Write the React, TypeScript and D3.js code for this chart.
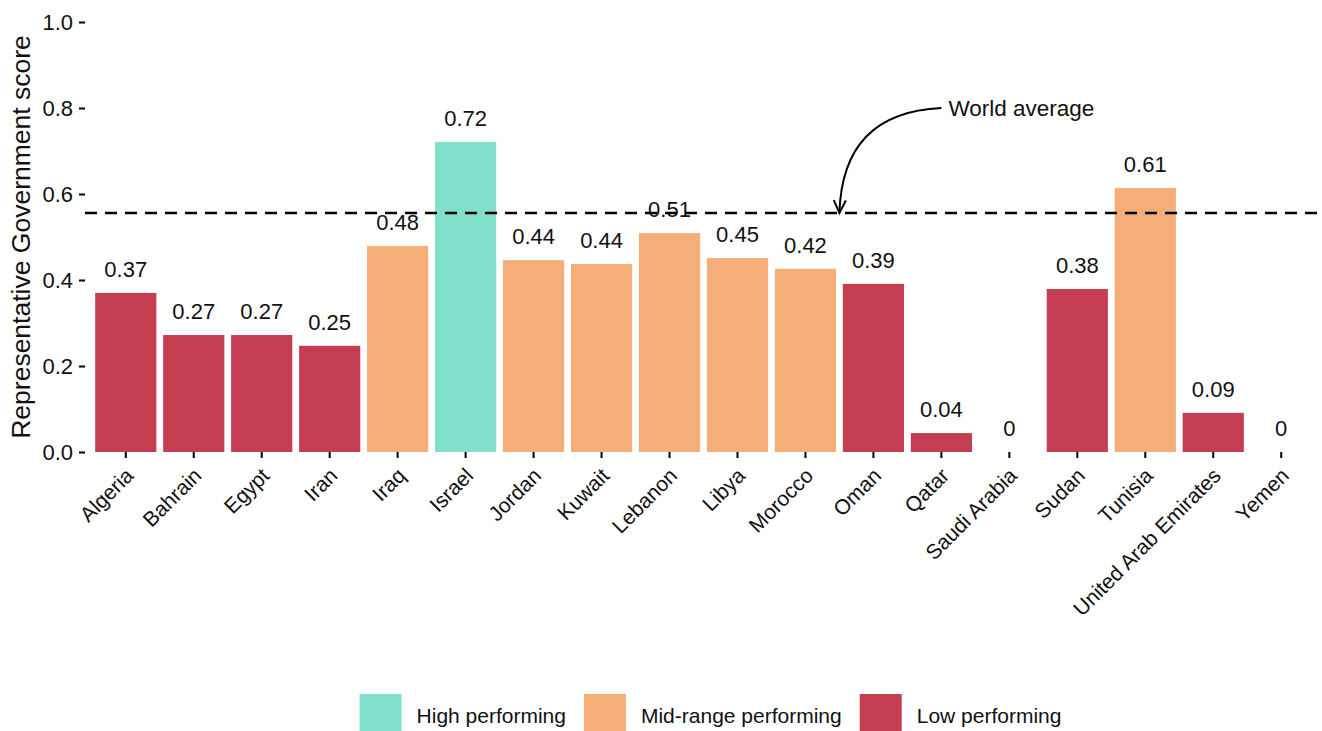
import { useEffect, useRef } from "react";
import * as d3 from "d3";

const countries = [
  "Algeria", "Bahrain", "Egypt", "Iran", "Iraq", "Israel", "Jordan", "Kuwait",
  "Lebanon", "Libya", "Morocco", "Oman", "Qatar", "Saudi Arabia", "Sudan",
  "Tunisia", "United Arab Emirates", "Yemen",
];
const scores = [
  0.37, 0.272, 0.272, 0.247, 0.479, 0.721, 0.446, 0.437, 0.509, 0.451, 0.426,
  0.391, 0.044, 0, 0.379, 0.614, 0.091, 0,
];
const scoreLabels = [
  "0.37", "0.27", "0.27", "0.25", "0.48", "0.72", "0.44", "0.44", "0.51", "0.45",
  "0.42", "0.39", "0.04", "0", "0.38", "0.61", "0.09", "0",
];
const groups = [
  "Low", "Low", "Low", "Low", "Mid", "High", "Mid", "Mid", "Mid", "Mid", "Mid",
  "Low", "Low", "Low", "Low", "Mid", "Low", "Low",
];
const groupKeys = ["High", "Mid", "Low"];
const groupLabels = ["High performing", "Mid-range performing", "Low performing"];
const groupColors = ["#80E0CC", "#F5AE78", "#C43D51"];
const yTicks = [0, 0.2, 0.4, 0.6, 0.8, 1.0];
const worldAverage = 0.556;

const FONT = "'Liberation Sans', Arial, Helvetica, sans-serif";

export default function App() {
  const svgRef = useRef<SVGSVGElement>(null);

  useEffect(() => {
    if (!svgRef.current) return;
    const width = 1322;
    const height = 731;
    const svg = d3.select(svgRef.current);
    svg.selectAll("*").remove();
    svg.attr("width", width).attr("height", height);

    const x = d3
      .scaleBand<string>()
      .domain(countries)
      .range([85, 1322])
      .paddingInner(0.1)
      .paddingOuter(0.15);
    const y = d3.scaleLinear().domain([0, 1]).range([452, 22]);
    const color = d3.scaleOrdinal<string, string>().domain(groupKeys).range(groupColors);

    const data = countries.map((c, i) => ({
      country: c,
      score: scores[i],
      label: scoreLabels[i],
      group: groups[i],
    }));

    // bars
    svg
      .append("g")
      .selectAll("rect")
      .data(data)
      .join("rect")
      .attr("x", (d) => x(d.country)!)
      .attr("width", x.bandwidth())
      .attr("y", (d) => y(d.score))
      .attr("height", (d) => y(0) - y(d.score))
      .attr("fill", (d) => color(d.group));

    // value labels
    svg
      .append("g")
      .selectAll("text")
      .data(data)
      .join("text")
      .attr("x", (d) => x(d.country)! + x.bandwidth() / 2)
      .attr("y", (d) => y(d.score) - 16)
      .attr("text-anchor", "middle")
      .attr("font-family", FONT)
      .attr("font-size", 22)
      .attr("fill", "#111")
      .text((d) => d.label);

    // world average line
    svg
      .append("line")
      .attr("x1", 85)
      .attr("x2", width)
      .attr("y1", y(worldAverage))
      .attr("y2", y(worldAverage))
      .attr("stroke", "#000")
      .attr("stroke-width", 2.5)
      .attr("stroke-dasharray", "12,8");

    // annotation curve
    const step = x.step();
    const cx = (i: number) => x(countries[0])! + x.bandwidth() / 2 + step * i;
    const start: [number, number] = [cx(12), y(0.8)];
    const end: [number, number] = [cx(10.5), y(worldAverage)];
    const mid: [number, number] = [(start[0] + end[0]) / 2, (start[1] + end[1]) / 2];
    const ctrl: [number, number] = [mid[0] - 48, mid[1] - 48];
    const p = d3.path();
    p.moveTo(start[0], start[1]);
    p.quadraticCurveTo(ctrl[0], ctrl[1], end[0], end[1]);
    svg
      .append("path")
      .attr("d", p.toString())
      .attr("fill", "none")
      .attr("stroke", "#000")
      .attr("stroke-width", 2);

    const ang = Math.atan2(end[1] - ctrl[1], end[0] - ctrl[0]);
    const headLen = 14;
    const spread = Math.PI / 7;
    const head = d3.path();
    head.moveTo(end[0] - headLen * Math.cos(ang - spread), end[1] - headLen * Math.sin(ang - spread));
    head.lineTo(end[0], end[1]);
    head.lineTo(end[0] - headLen * Math.cos(ang + spread), end[1] - headLen * Math.sin(ang + spread));
    svg
      .append("path")
      .attr("d", head.toString())
      .attr("fill", "none")
      .attr("stroke", "#000")
      .attr("stroke-width", 2);

    svg
      .append("text")
      .attr("x", start[0] + 7)
      .attr("y", start[1])
      .attr("dy", "0.35em")
      .attr("font-family", FONT)
      .attr("font-size", 22.5)
      .attr("fill", "#111")
      .text("World average");

    // y axis
    const yAxis = svg
      .append("g")
      .attr("transform", "translate(85,0)")
      .call(
        d3
          .axisLeft(y)
          .tickValues(yTicks)
          .tickSize(6)
          .tickPadding(6)
          .tickFormat(d3.format(".1f"))
      );
    yAxis.select(".domain").remove();
    yAxis.selectAll(".tick line").attr("stroke", "#000").attr("stroke-width", 2);
    yAxis
      .selectAll(".tick text")
      .attr("font-family", FONT)
      .attr("font-size", 22)
      .attr("fill", "#111");

    // x axis
    const xAxis = svg
      .append("g")
      .attr("transform", `translate(0,${y(0)})`)
      .call(d3.axisBottom(x).tickSize(6).tickPadding(4));
    xAxis.select(".domain").remove();
    xAxis.selectAll(".tick line").attr("stroke", "#000").attr("stroke-width", 2);
    xAxis
      .selectAll<SVGTextElement, string>(".tick text")
      .attr("font-family", FONT)
      .attr("font-size", 21)
      .attr("fill", "#111")
      .attr("text-anchor", "end")
      .attr("y", 0)
      .attr("dy", 0)
      .attr("transform", "translate(9,25) rotate(-45)");

    // y title
    svg
      .append("text")
      .attr("transform", `translate(30,${(y(0) + y(1)) / 2}) rotate(-90)`)
      .attr("text-anchor", "middle")
      .attr("font-family", FONT)
      .attr("font-size", 26.5)
      .attr("fill", "#111")
      .text("Representative Government score");

    // legend
    const legend = svg.append("g");
    let lx = 0;
    groupKeys.forEach((k, i) => {
      const g = legend.append("g").attr("transform", `translate(${lx},0)`);
      g.append("rect")
        .attr("width", 42)
        .attr("height", 42)
        .attr("fill", groupColors[i]);
      const t = g
        .append("text")
        .attr("x", 57)
        .attr("y", 22)
        .attr("dy", "0.35em")
        .attr("font-family", FONT)
        .attr("font-size", 21)
        .attr("fill", "#111")
        .text(groupLabels[i]);
      const w = (t.node() as SVGTextElement).getComputedTextLength();
      lx += 57 + w + 18;
    });
    const legendW = lx - 18;
    legend.attr("transform", `translate(${(85 + width) / 2 - legendW / 2 + 7},694)`);
  }, []);

  return (
    <svg
      ref={svgRef}
      style={{ position: "absolute", left: 0, top: 0, display: "block", background: "#fff" }}
    />
  );
}
